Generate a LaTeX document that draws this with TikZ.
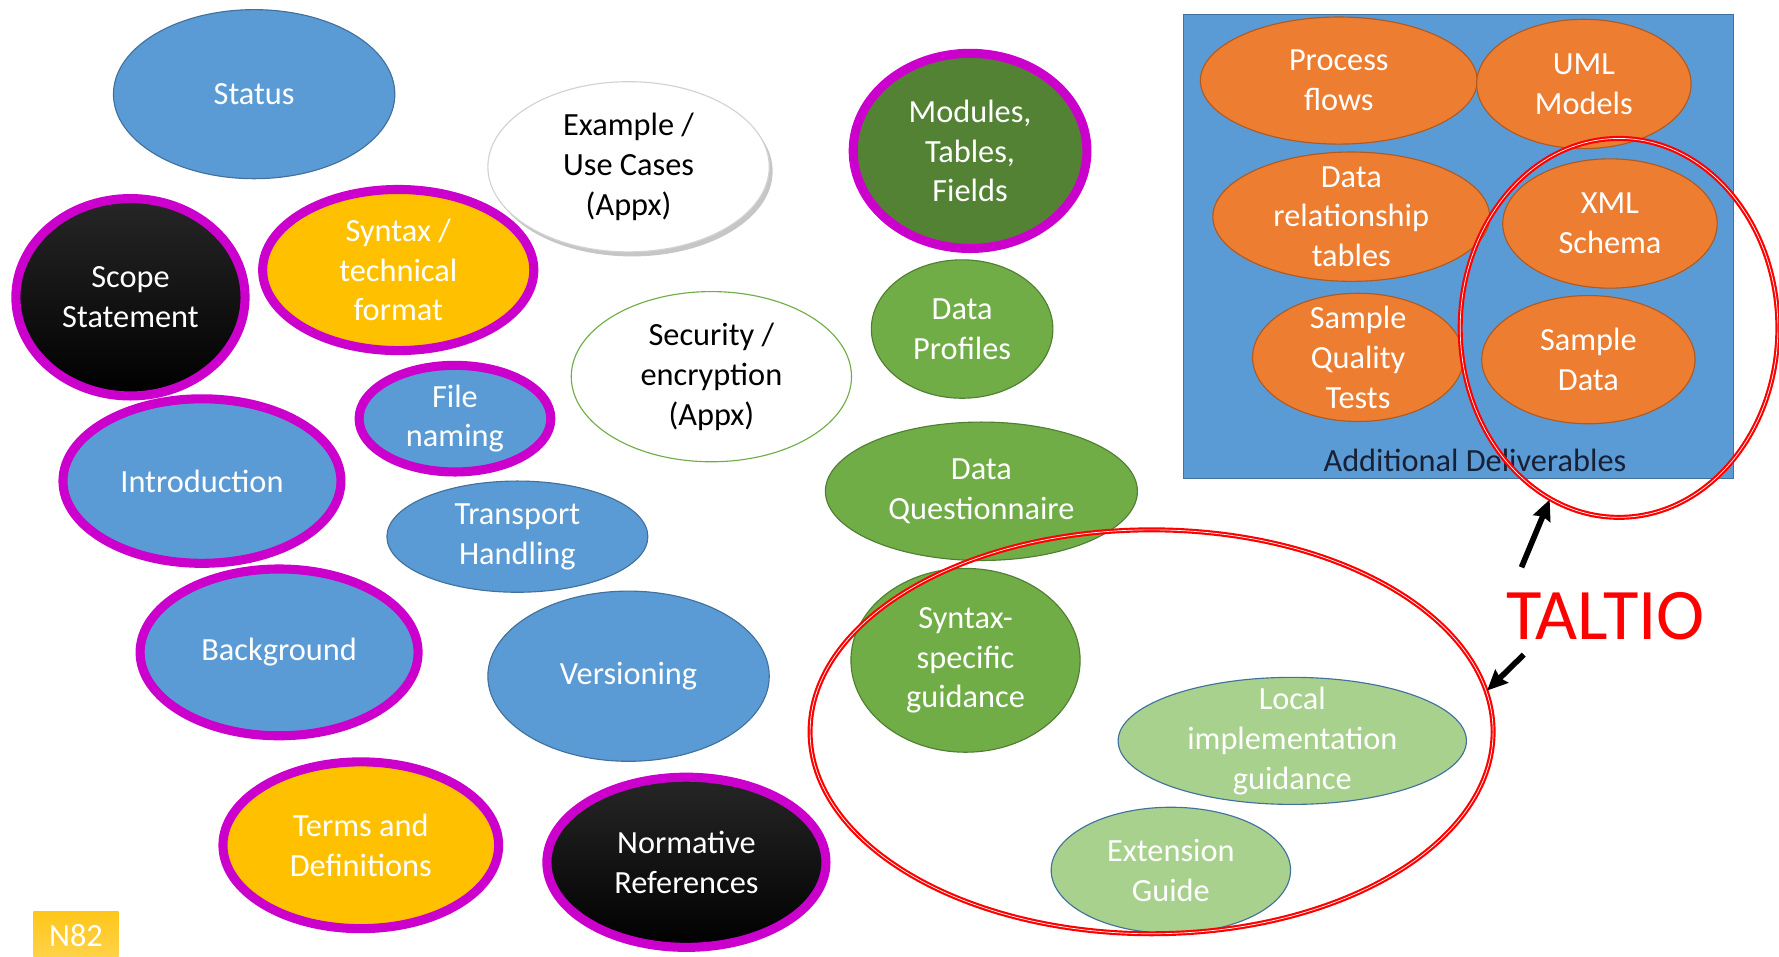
\documentclass[tikz,border=0pt]{standalone}
\usepackage{fontspec}
\setmainfont{Carlito}
\usepackage{tikz}
\usetikzlibrary{shapes}
\usetikzlibrary{shadows}
\usetikzlibrary{arrows.meta}
\definecolor{blueF}{HTML}{5B9BD5}
\definecolor{blueD}{HTML}{41719C}
\definecolor{greenF}{HTML}{70AD47}
\definecolor{greenD}{HTML}{507E32}
\definecolor{dgreenF}{HTML}{548235}
\definecolor{lgreenF}{HTML}{A9D18E}
\definecolor{orangeF}{HTML}{ED7D31}
\definecolor{orangeD}{HTML}{AE5A21}
\definecolor{yellowF}{HTML}{FFC000}
\definecolor{ringC}{HTML}{CC00CC}
\definecolor{navyT}{HTML}{172035}
\tikzset{
  bubble/.style={ellipse,inner xsep=0pt,inner ysep=-60pt,align=center,text=white,
    font=\fontsize{28.5}{35}\selectfont},
  blueb/.style={bubble,fill=blueF,draw=blueD,line width=1pt},
  greenb/.style={bubble,fill=greenF,draw=greenD,line width=1pt},
  lgreenb/.style={bubble,fill=lgreenF,draw=blueD,line width=1pt},
  orangeb/.style={bubble,fill=orangeF,draw=orangeD,line width=1pt},
  whiteb/.style={bubble,fill=white,text=black,line width=1pt},
  ring/.style={draw=ringC,line width=8pt},
  darkb/.style={bubble,top color=black!85,middle color=black,bottom color=black},
  redring/.style={ellipse,draw=red,double=white,double distance=0.6pt,line width=1.9pt},
  pointer/.style={->,>={Stealth[length=18pt,width=16pt,inset=2pt]},line width=5pt}
}
\begin{document}
\begin{tikzpicture}[x=1pt,y=-1pt]
\useasboundingbox (0,0) rectangle (1568,843);
\node[blueb,minimum width=248pt,minimum height=149pt] (status) at (224,83) {Status};
\node[whiteb,draw=gray!35,drop shadow={shadow xshift=3pt,shadow yshift=-4pt,opacity=0.45},
  minimum width=248pt,minimum height=150pt] (example) at (554,147) {Example /\\Use Cases\\(Appx)};
\node[bubble,fill=dgreenF,ring,minimum width=206pt,minimum height=172pt] (modules) at (855,133) {Modules,\\Tables,\\Fields};
\node[darkb,ring,minimum width=202pt,minimum height=174pt] (scope) at (115,262) {Scope\\Statement};
\node[bubble,fill=yellowF,ring,minimum width=239pt,minimum height=142pt] (syntax) at (351,238) {Syntax /\\technical\\format};
\node[whiteb,draw=greenF,minimum width=247pt,minimum height=150pt] (security) at (627,332) {Security /\\encryption\\(Appx)};
\node[greenb,minimum width=160pt,minimum height=122pt] (profiles) at (848,290) {Data\\Profiles};
\node[blueb,ring,minimum width=169pt,minimum height=94pt] (naming) at (401,369) {File\\naming};
\node[blueb,ring,minimum width=245pt,minimum height=145pt] (intro) at (178,424) {Introduction};
\node[blueb,minimum width=230pt,minimum height=98pt] (transport) at (456,473) {Transport\\Handling};
\node[greenb,minimum width=275pt,minimum height=122pt] (questionnaire) at (865,433) {Data\\Questionnaire};
\node[blueb,ring,minimum width=245pt,minimum height=147pt] (background) at (246,575) {Background};
\node[blueb,minimum width=248pt,minimum height=150pt] (versioning) at (554,596) {Versioning};
\node[greenb,minimum width=202pt,minimum height=162pt] (syntaxguide) at (851,582) {Syntax-\\specific\\guidance};
\node[lgreenb,minimum width=307pt,minimum height=112pt] (localguide) at (1139,653) {Local\\implementation\\guidance};
\node[lgreenb,minimum width=211pt,minimum height=111pt] (extension) at (1032,767) {Extension\\Guide};
\node[bubble,fill=yellowF,ring,minimum width=243pt,minimum height=147pt] (terms) at (318,745) {Terms and\\Definitions};
\node[darkb,ring,minimum width=246pt,minimum height=150pt] (normative) at (605,760) {Normative\\References};
\node[top color=yellowF!90!white,bottom color=yellowF!70!white,text=white,font=\fontsize{28.5}{35}\selectfont,
  minimum width=75pt,minimum height=44pt] (nlabel) at (67,825) {N82};
\node[fill=blueF,draw=blueD,line width=0.8pt,minimum width=485pt,minimum height=409pt] (deliv) at (1285.5,217.5) {};
\node[orangeb,minimum width=244pt,minimum height=112pt] (process) at (1180,71) {Process\\flows};
\node[orangeb,minimum width=189pt,minimum height=114pt] (uml) at (1396,74) {UML\\Models};
\node[orangeb,minimum width=244pt,minimum height=114pt] (datarel) at (1191,191) {Data\\relationship\\tables};
\node[orangeb,minimum width=189pt,minimum height=114pt] (xmlschema) at (1419,197) {XML\\Schema};
\node[orangeb,minimum width=186pt,minimum height=113pt] (quality) at (1197,315) {Sample\\Quality\\Tests};
\node[orangeb,minimum width=188pt,minimum height=113pt] (sampledata) at (1400,317) {Sample\\Data};
\node[text=navyT,font=\fontsize{28.5}{35}\selectfont] (delivlabel) at (1300,406) {Additional Deliverables};
\node[redring,minimum width=280pt,minimum height=334pt] (taltioA) at (1427,289) {};
\node[redring,minimum width=602pt,minimum height=356pt] (taltioB) at (1015,645) {};
\node[text=red,font=\fontsize{64}{70}\selectfont] (taltio) at (1415,543) {TALTIO};
\coordinate (arrA) at (1341,500);
\coordinate (arrB) at (1343,577);
\draw[pointer] (arrA) -- (taltioA.248);
\draw[pointer] (arrB) -- (taltioB.7);
\end{tikzpicture}
\end{document}
